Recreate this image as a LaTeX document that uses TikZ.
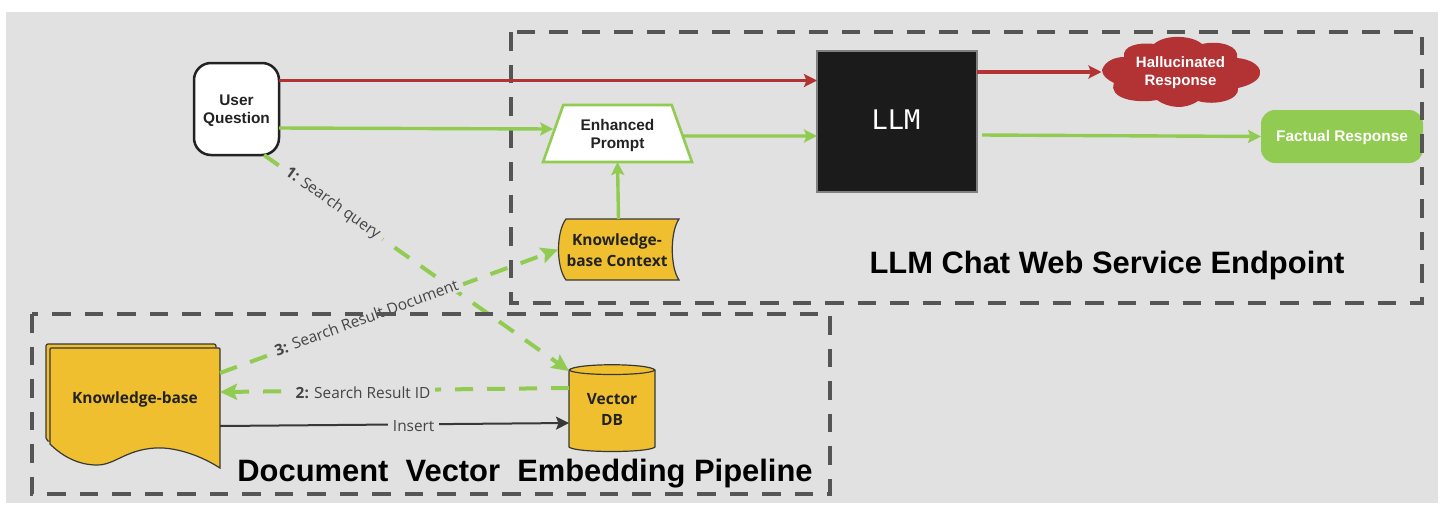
\documentclass[tikz,border=0pt]{standalone}
\usepackage{fontspec}
\setmainfont{Liberation Sans}
\newfontfamily\osans{Open Sans}
\newfontfamily\dmono{DejaVu Sans Mono}
\usetikzlibrary{arrows.meta,shapes.geometric}
\definecolor{bgc}{HTML}{E1E1E1}
\definecolor{grn}{HTML}{92CB52}
\definecolor{redc}{HTML}{B33335}
\definecolor{yel}{HTML}{EFBF30}
\definecolor{dashc}{HTML}{555555}
\definecolor{ink}{HTML}{222222}
\definecolor{lbl}{HTML}{444444}
\tikzset{
  x=1pt,y=-1pt,
  box/.style={inner sep=0pt,outer sep=0pt,align=center},
  zone/.style={draw=dashc,line width=4.5pt,dash pattern=on 18.5pt off 14pt},
  title/.style={inner sep=0pt,font=\fontsize{30.9}{34}\selectfont\bfseries,text=black},
  hd/.style={font=\fontsize{15.4}{17.6}\selectfont\bfseries},
  od/.style={font=\fontsize{15.5}{21}\selectfont\osans\bfseries,text=ink},
  shapeline/.style={draw=ink!90,line width=1.2pt,fill=yel},
  tip/.style={-{Stealth[length=13pt,width=13pt,inset=2.5pt]}},
  gline/.style={tip,draw=grn,line width=3.4pt},
  rline/.style={tip,draw=redc,line width=3.6pt},
  gdash/.style={draw=grn,line width=4pt,dash pattern=on 18pt off 14pt,-{Stealth[length=17pt,width=16pt,inset=3pt]}},
  klabel/.style={fill=bgc,inner ysep=2pt,inner xsep=5pt,text=lbl,font=\fontsize{15.4}{17}\selectfont\osans},
}
\begin{document}
\begin{tikzpicture}
\useasboundingbox (0,0) rectangle (1448,520);
\fill[white] (0,0) rectangle (1448,520);
\fill[bgc] (6,12) rectangle (1438,503);
% knowledge base shape
\draw[shapeline,rounded corners=2pt] (46,344) -- (216,344) -- (216,360) -- (50,442) -- (46,440) -- cycle;
\draw[shapeline] (51,348) -- (219,348) -- (220,349) -- (220,468)
  .. controls (195,452) and (170,447) .. (155,448)
  .. controls (125,450) and (115,465) .. (97,465)
  .. controls (78,465) and (62,456) .. (50,444) -- (50,349) -- cycle;
\node[box,minimum width=170pt,minimum height=100pt] (kb) at (135,397.5) {};
\node[box,od] at (135,399) {Knowledge-base};
% vector db
\draw[shapeline] (569,370) -- (569,447) .. controls (575,453) and (649,453) .. (655,447) -- (655,370)
  .. controls (649,363) and (575,363) .. (569,370) -- cycle;
\draw[draw=ink!90,line width=1.2pt] (569,370) .. controls (575,376) and (649,376) .. (655,370);
\node[box,minimum width=86pt,minimum height=87pt] (vdb) at (612,408.5) {};
\node[box,od] at (612,409.5) {Vector\\DB};
% stored data
\draw[shapeline] (566,219) -- (679,219) .. controls (670,232) and (670,267) .. (679,280) -- (566,280)
  .. controls (556,267) and (556,232) .. (566,219) -- cycle;
\node[box,minimum width=121pt,minimum height=61pt] (kc) at (618.5,249.5) {};
\node[box,od] at (617,250.5) {Knowledge-\\base Context};
% user question
\node[box,draw=ink,line width=2.5pt,fill=white,rounded corners=17pt,minimum width=85pt,minimum height=92pt] (uq) at (236.5,109) {};
\node[box,hd,text=ink] at (236.5,110.5) {User\\Question};
% enhanced prompt
\node[trapezium,trapezium stretches=true,trapezium left angle=69,trapezium right angle=69,inner sep=0pt,outer sep=0pt,
  draw=grn,line width=2.6pt,fill=white,minimum width=149pt,minimum height=57pt,hd,align=center,text=ink] (ep) at (617.5,133.5) {\rule{0pt}{15pt}Enhanced\\Prompt};
% LLM
\node[box,draw=black!50,line width=1.2pt,fill=ink!80!black,minimum width=160pt,minimum height=141pt] (llm) at (897,121.5) {};
\node[box,text=white,font=\fontsize{27}{30}\selectfont\dmono] at (896,120) {LLM};
% hallucinated
\fill[redc] (1102,70) .. controls (1105,61) and (1115,57) .. (1124,57)
  .. controls (1122,46) and (1138,42) .. (1154,44)
  .. controls (1165,34) and (1192,35) .. (1202,44)
  .. controls (1220,40) and (1240,46) .. (1237,58)
  .. controls (1262,60) and (1273,80) .. (1238,88)
  .. controls (1240,100) and (1215,106) .. (1198,101)
  .. controls (1185,110) and (1168,108) .. (1157,100)
  .. controls (1135,104) and (1108,98) .. (1114,83)
  .. controls (1108,80) and (1102,76) .. (1102,70) -- cycle;
\node[box,minimum width=159pt,minimum height=68pt] (hr) at (1181,72) {};
\node[box,text=white,font=\fontsize{15}{18}\selectfont\bfseries] at (1180.5,73) {Hallucinated\\Response};
% factual
\node[box,fill=grn,rounded corners=14pt,minimum width=162pt,minimum height=53pt] (fr) at (1342,136.5) {};
\node[box,hd,text=white] at (1342,138) {Factual Response};
% dashed connectors with labels
\draw[gdash] ([xshift=-15pt]uq.south east) -- ([xshift=-43pt,yshift=-6pt]vdb.north)
  node[pos=.225,sloped,klabel] {\textbf{1:} Search query};
\draw[gdash] ([yshift=24.5pt]kb.east) -- (kc.west)
  node[pos=.435,sloped,klabel,yshift=2pt] {\textbf{3:} Search Result Document};
\draw[gdash] ([yshift=20.5pt]vdb.west) -- ([yshift=5.5pt]kb.east)
  node[pos=.59,klabel,yshift=-2.5pt] {\textbf{2:} Search Result ID};
% zones
\draw[zone] (32,314) rectangle (830,494);
\draw[zone] (511,32) rectangle (1422,303);
\node[title] at (525,473.5) {Document\ \ Vector\ \ Embedding Pipeline};
\node[title] at (1107,265.5) {LLM Chat Web Service Endpoint};
% solid connectors
\draw[tip,draw=ink!90,line width=2pt] ([yshift=-28.5pt]kb.east) -- ([yshift=-14.5pt]vdb.west)
  node[pos=.555,klabel,yshift=-1.5pt] {Insert};
\draw[rline] ([yshift=28.5pt]uq.east) -- ([yshift=41pt]llm.west);
\draw[gline] ([yshift=-19pt]uq.east) -- ([yshift=4.5pt]ep.west);
\draw[gline] ([yshift=-2.5pt]ep.east) -- ([yshift=-14.5pt]llm.west);
\draw[gline] (kc.north) -- (ep.south);
\draw[rline] ([yshift=49.5pt]llm.east) -- (hr.west);
\draw[gline] ([xshift=5pt,yshift=-13.5pt]llm.east) -- (fr.west);
\end{tikzpicture}
\end{document}
